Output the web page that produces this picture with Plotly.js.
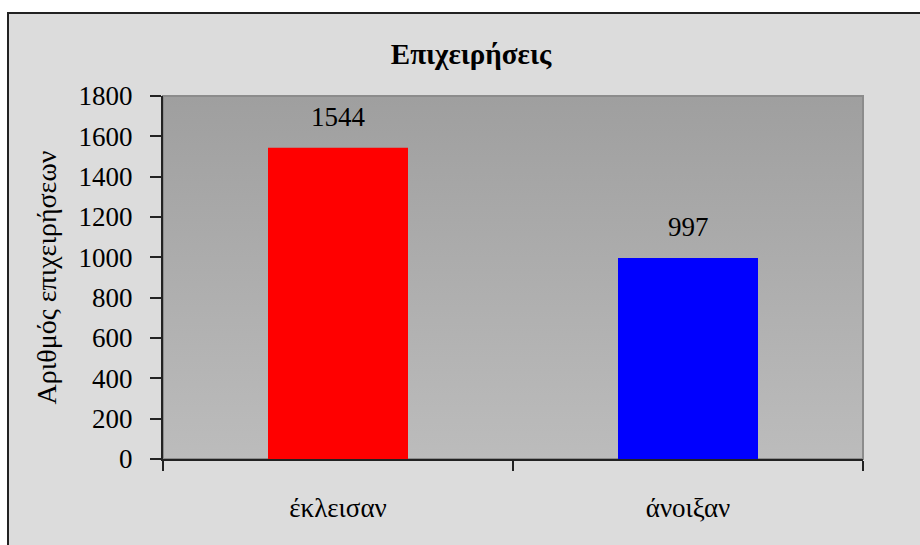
<!DOCTYPE html>
<html>
<head>
<meta charset="utf-8">
<script src="https://cdn.plot.ly/plotly-3.0.1.min.js"></script>
<style>
html,body{margin:0;padding:0;background:#ffffff;}
#chart{width:920px;height:545px;}
</style>
</head>
<body>
<div id="chart"></div>
<script>
const categories = ["έκλεισαν", "άνοιξαν"];
const values = [1544, 997];
const barColors = ["#ff0000", "#0000ff"];
const yTicks = [0, 200, 400, 600, 800, 1000, 1200, 1400, 1600, 1800];
const chartTitle = "Επιχειρήσεις";
const yTitle = "Αριθμός επιχειρήσεων";

const serif = "'Liberation Serif', 'Times New Roman', Times, serif";

const gradSvg = '<svg xmlns="http://www.w3.org/2000/svg" width="100" height="100" preserveAspectRatio="none">' +
  '<defs><linearGradient id="g" x1="0" y1="0" x2="0" y2="1">' +
  '<stop offset="0" stop-color="#9f9f9f"/><stop offset="1" stop-color="#bcbcbc"/>' +
  '</linearGradient></defs><rect width="100" height="100" fill="url(#g)"/></svg>';
const gradUri = "data:image/svg+xml;charset=utf-8," + encodeURIComponent(gradSvg);

const trace = {
  type: "bar",
  x: categories,
  y: values,
  marker: {color: barColors, line: {width: 0}},
  width: 0.4,
  hoverinfo: "x+y"
};

const annotations = categories.map((c, i) => ({
  x: c, y: values[i], xref: "x", yref: "y",
  text: String(values[i]), showarrow: false,
  yanchor: "middle", yshift: 31,
  font: {family: serif, size: 27, color: "#000"}
}));

const layout = {
  width: 920, height: 545,
  margin: {l: 163, r: 57, t: 96, b: 86},
  paper_bgcolor: "#dcdcdc",
  plot_bgcolor: "rgba(0,0,0,0)",
  showlegend: false,
  title: {
    text: "<b>" + chartTitle + "</b>",
    x: 471/920, xref: "container", xanchor: "center",
    y: 1 - 54/545, yref: "container", yanchor: "middle",
    font: {family: serif, size: 29, color: "#000"}
  },
  xaxis: {
    type: "category",
    range: [-0.5, 1.5],
    showline: true, linecolor: "#222", linewidth: 2,
    ticks: "outside", tickson: "boundaries", ticklen: 10, tickwidth: 2, tickcolor: "#222",
    ticklabelstandoff: 24,
    tickfont: {family: serif, size: 27, color: "#000"},
    showgrid: false, zeroline: false, fixedrange: true
  },
  yaxis: {
    range: [0, 1800],
    tickvals: yTicks,
    ticktext: yTicks.map(String),
    showline: true, linecolor: "#222", linewidth: 2,
    ticks: "outside", ticklen: 11, tickwidth: 2, tickcolor: "#222",
    ticklabelstandoff: 12,
    tickfont: {family: serif, size: 27, color: "#000"},
    showgrid: false, zeroline: false, fixedrange: true,
    title: {text: yTitle, standoff: 14, font: {family: serif, size: 28, color: "#000"}}
  },
  images: [{
    source: gradUri, xref: "paper", yref: "paper",
    x: 0, y: 1, sizex: 1, sizey: 1, sizing: "stretch",
    xanchor: "left", yanchor: "top", layer: "below"
  }],
  shapes: [
    {type: "rect", xref: "paper", yref: "paper", x0: -0.3, x1: 1.2, y0: 1 + (96-13)/363, y1: 1.5,
     fillcolor: "#ffffff", line: {width: 0}, layer: "below"},
    {type: "rect", xref: "paper", yref: "paper", x0: -0.3, x1: -(163-8)/700, y0: -0.5, y1: 1.5,
     fillcolor: "#ffffff", line: {width: 0}, layer: "below"},
    {type: "rect", xref: "paper", yref: "paper", x0: -(163-8)/700, x1: 1.2, y0: -0.5, y1: 1 + (96-13)/363,
     fillcolor: "rgba(0,0,0,0)", line: {color: "#222", width: 2}, layer: "below"},
    {type: "rect", xref: "paper", yref: "paper", x0: 0, x1: 1, y0: 0, y1: 1,
     fillcolor: "rgba(0,0,0,0)", line: {color: "#8c8c8c", width: 2}, layer: "below"}
  ],
  annotations: annotations
};

Plotly.newPlot("chart", [trace], layout, {displayModeBar: false, staticPlot: true});
</script>
</body>
</html>
